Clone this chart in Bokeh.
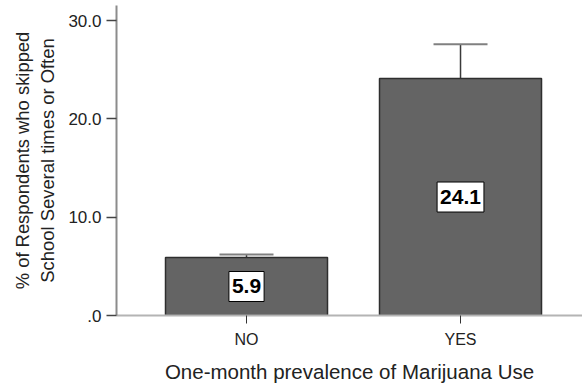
from bokeh.plotting import figure
from bokeh.models import ColumnDataSource, Range1d, FixedTicker, Whisker, TeeHead
from bokeh.core.properties import value
from bokeh.embed import file_html
from bokeh.resources import INLINE

categories = ["NO", "YES"]
values = [5.9, 24.1]
err_lower = [5.6, 20.7]
err_upper = [6.2, 27.6]
value_labels = ["5.9", "24.1"]
y_ticks = [0, 10, 20, 30]
y_tick_labels = [".0", "10.0", "20.0", "30.0"]
x_title = "One-month prevalence of Marijuana Use"
y_title = "% of Respondents who skipped\nSchool Several times or Often"

xpos = list(range(len(categories)))
src = ColumnDataSource(dict(
    x=xpos, top=values, mid=[v / 2 for v in values], lab=value_labels,
    lower=err_lower, upper=err_upper,
))

FONT = "Liberation Sans"
p = figure(width=582, height=385, output_backend="svg", toolbar_location=None,
           x_range=Range1d(-0.6075, 1.570), y_range=Range1d(0, 31.53),
           min_border_left=116, min_border_right=0, min_border_top=5, min_border_bottom=0)
p.outline_line_color = None
p.grid.visible = False
p.background_fill_color = "white"

p.vbar(x="x", top="top", width=0.757, source=src, fill_color="#646464",
       line_color="#2e2e2e", line_width=1.5)

w = Whisker(base="x", lower="lower", upper="upper", source=src,
            line_color="#3a3a3a", line_width=1.5,
            upper_head=TeeHead(size=54, line_color="#808080", line_width=2),
            lower_head=TeeHead(size=54, line_color="#404040", line_width=2))
p.add_layout(w)

p.text(x="x", y="mid", text="lab", source=src, text_align="center", text_baseline="middle",
       text_font_size="21px", text_font_style="bold", text_color="black",
       text_font=value(FONT),
       background_fill_color="white", border_line_color="black", border_line_width=1,
       padding=(3, 8))

# x axis
p.xaxis.ticker = FixedTicker(ticks=xpos)
p.xaxis.major_label_overrides = {i: c for i, c in zip(xpos, categories)}
p.xaxis.major_label_text_font = FONT
p.xaxis.major_label_text_font_size = "16px"
p.xaxis.major_label_text_color = "#222222"
p.xaxis.major_label_standoff = 7
p.xaxis.axis_line_color = "#b4b4b4"
p.xaxis.axis_line_width = 2
p.xaxis.major_tick_line_color = "#333333"
p.xaxis.major_tick_out = 8
p.xaxis.major_tick_in = 0
p.xaxis.minor_tick_line_color = None
p.xaxis.axis_label = x_title
p.xaxis.axis_label_text_font = FONT
p.xaxis.axis_label_text_font_size = "20.5px"
p.xaxis.axis_label_text_font_style = "normal"
p.xaxis.axis_label_text_color = "#222222"
p.xaxis.axis_label_standoff = 9

# y axis
p.yaxis.ticker = FixedTicker(ticks=y_ticks)
p.yaxis.major_label_overrides = {t: l for t, l in zip(y_ticks, y_tick_labels)}
p.yaxis.axis_label = y_title
p.yaxis.axis_label_text_font = FONT
p.yaxis.axis_label_text_font_size = "18.4px"
p.yaxis.axis_label_text_font_style = "normal"
p.yaxis.axis_label_text_color = "#222222"
p.yaxis.axis_label_standoff = 7
p.yaxis.major_label_text_font = FONT
p.yaxis.major_label_text_font_size = "17px"
p.yaxis.major_label_text_color = "#222222"
p.yaxis.major_label_standoff = 5
p.yaxis.axis_line_color = "#8c8c8c"
p.yaxis.axis_line_width = 2
p.yaxis.major_tick_line_color = "#444444"
p.yaxis.major_tick_line_width = 1.5
p.yaxis.major_tick_out = 10
p.yaxis.major_tick_in = 0
p.yaxis.minor_tick_line_color = None

open("out.html", "w").write(file_html(p, INLINE))
